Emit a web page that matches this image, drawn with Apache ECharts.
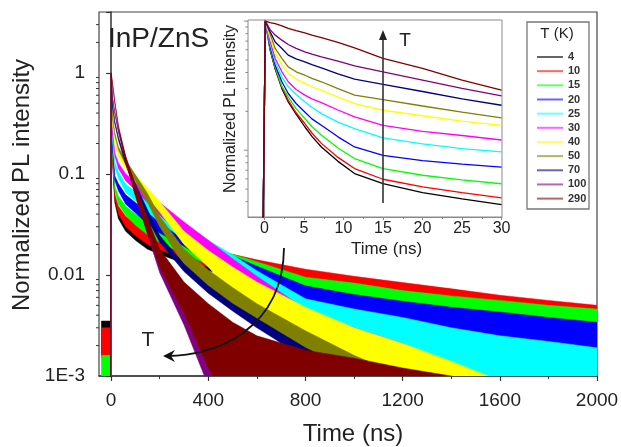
<!DOCTYPE html>
<html><head><meta charset="utf-8">
<script src="https://cdn.jsdelivr.net/npm/echarts@6/dist/echarts.min.js"></script>
<style>html,body{margin:0;padding:0;background:#fff}#c{width:621px;height:447px}</style>
</head><body><div id="c"></div>
<script>
// ---------- categories / styling lists ----------
const TEMPS = ['4','10','15','20','25','30','40','50','70','100','290'];
const COLORS = ['#000000','#ff0000','#00ff00','#0000ff','#00ffff','#ff00ff','#ffff00','#808000','#000080','#800080','#800000'];

// ---------- main plot: time grid and noise-band edges (lower / upper) ----------
const MAIN_T = [-40, -2, 0, 5, 15, 30, 60, 100, 150, 200, 300, 400, 500, 600, 800, 1000, 1200, 1400, 1600, 1800, 2000];

const LO_4K   = [0.0016,0.0016,0.97,0.145,0.052,0.036,0.027,0.022,0.018,0.016,0.013,0.011,0.0098,0.0086,0.0068,0.0056,0.0048,0.0042,0.0037,0.0033,0.003];
const HI_4K   = [0.0035,0.0035,1.0,0.155,0.058,0.044,0.035,0.029,0.025,0.022,0.019,0.0168,0.0152,0.0135,0.011,0.0094,0.0082,0.0072,0.0061,0.0054,0.0048];
const LO_10K  = [0.0015,0.0015,0.97,0.155,0.057,0.04,0.03,0.0245,0.02,0.0178,0.0142,0.012,0.0102,0.009,0.0071,0.0058,0.0049,0.0043,0.0038,0.0034,0.0031];
const HI_10K  = [0.003,0.003,1.0,0.166,0.063,0.048,0.038,0.032,0.0278,0.0248,0.0208,0.0182,0.016,0.0141,0.0114,0.0097,0.0084,0.0073,0.0063,0.0056,0.005];
const LO_15K  = [0.0008,0.0008,0.97,0.17,0.068,0.05,0.039,0.031,0.025,0.021,0.0162,0.0126,0.0103,0.0086,0.0058,0.0048,0.004,0.0034,0.003,0.0026,0.0023];
const HI_15K  = [0.0016,0.0016,1.0,0.182,0.076,0.06,0.048,0.04,0.034,0.0295,0.0232,0.019,0.016,0.0135,0.0095,0.0083,0.007,0.0062,0.0056,0.005,0.0046];
const LO_20K  = [0.0003,0.0003,0.97,0.19,0.086,0.068,0.05,0.041,0.032,0.026,0.0192,0.0135,0.0098,0.0074,0.0043,0.0033,0.0026,0.0021,0.0018,0.0015,0.0013];
const HI_20K  = [0.0005,0.0005,1.0,0.206,0.096,0.08,0.062,0.052,0.042,0.036,0.0275,0.02,0.0155,0.0122,0.0078,0.0064,0.0055,0.0048,0.0043,0.0038,0.0034];
const LO_25K  = [0.0003,0.0003,0.97,0.228,0.118,0.09,0.066,0.054,0.042,0.033,0.0225,0.0148,0.01,0.0066,0.003,0.0022,0.0016,0.0012,0.0009,0.0007,0.0006];
const HI_25K  = [0.0005,0.0005,1.0,0.246,0.131,0.105,0.079,0.067,0.055,0.046,0.0325,0.022,0.0158,0.011,0.0058,0.0046,0.0038,0.003,0.0025,0.0022,0.0019];
const LO_30K  = [0.0003,0.0003,0.97,0.257,0.15,0.113,0.085,0.069,0.052,0.039,0.0235,0.0148,0.0092,0.0058,0.0021,0.0012,0.0008,0.0005,0.0003,0.0003,0.0003];
const HI_30K  = [0.0005,0.0005,1.0,0.277,0.163,0.128,0.1,0.082,0.065,0.052,0.0335,0.022,0.0145,0.0097,0.0046,0.003,0.0021,0.0013,0.0009,0.0006,0.0005];
const LO_40K  = [0.0003,0.0003,0.97,0.32,0.196,0.149,0.111,0.084,0.059,0.042,0.02,0.012,0.0065,0.0035,0.0014,0.0007,0.0004,0.0003,0.0003,0.0003,0.0003];
const HI_40K  = [0.0005,0.0005,1.0,0.338,0.212,0.163,0.126,0.097,0.072,0.053,0.027,0.0175,0.012,0.0085,0.0048,0.003,0.0021,0.0014,0.0009,0.0006,0.0005];
const LO_50K  = [0.0003,0.0003,0.97,0.372,0.238,0.171,0.123,0.084,0.052,0.03,0.0125,0.0078,0.005,0.0032,0.0014,0.0007,0.0003,0.0003,0.0003,0.0003,0.0003];
const HI_50K  = [0.0005,0.0005,1.0,0.39,0.256,0.185,0.137,0.098,0.064,0.038,0.018,0.0112,0.0075,0.0052,0.0028,0.0016,0.001,0.0006,0.0005,0.0005,0.0005];
const LO_70K  = [0.0003,0.0003,0.97,0.472,0.315,0.215,0.124,0.069,0.036,0.021,0.0108,0.0066,0.0044,0.003,0.0015,0.0007,0.0003,0.0003,0.0003,0.0003,0.0003];
const HI_70K  = [0.0005,0.0005,1.0,0.494,0.331,0.231,0.137,0.08,0.044,0.0245,0.0128,0.0078,0.0052,0.0037,0.0019,0.0011,0.0007,0.0005,0.0005,0.0005,0.0005];
const LO_100K = [0.0003,0.0003,0.97,0.565,0.396,0.256,0.135,0.062,0.025,0.0105,0.0032,0.0008,0.0004,0.0003,0.0003,0.0003,0.0003,0.0003,0.0003,0.0003,0.0003];
const HI_100K = [0.0005,0.0005,1.0,0.59,0.414,0.272,0.15,0.076,0.035,0.017,0.0078,0.0047,0.003,0.0021,0.0015,0.0012,0.0009,0.0006,0.0005,0.0005,0.0005];
const LO_290K = [0.0003,0.0003,0.97,0.795,0.503,0.283,0.13,0.06,0.026,0.012,0.0042,0.0012,0.0005,0.0004,0.0003,0.0003,0.0003,0.0003,0.0003,0.0003,0.0003];
const HI_290K = [0.0005,0.0005,1.0,0.825,0.525,0.301,0.148,0.075,0.036,0.018,0.0085,0.0052,0.0034,0.0025,0.0018,0.0015,0.0012,0.001,0.0008,0.0006,0.0006];

// ---------- inset: time grid and curve values ----------
const INSET_T = [-2.1, -0.25, 0.1, 0.7, 1.35, 2.2, 3, 4, 5.1, 6, 7.2, 9.3, 11.4, 15, 20, 25, 30];
const IN_4K   = [0.01,0.01,1.0,0.6,0.425,0.3,0.237,0.19,0.152,0.128,0.106,0.082,0.066,0.0552,0.047,0.042,0.0379];
const IN_10K  = [0.01,0.01,1.0,0.61,0.43,0.31,0.244,0.195,0.161,0.136,0.113,0.088,0.0721,0.0596,0.052,0.047,0.0427];
const IN_15K  = [0.01,0.01,1.0,0.62,0.442,0.313,0.259,0.21,0.176,0.152,0.131,0.104,0.0862,0.0721,0.064,0.059,0.055];
const IN_20K  = [0.01,0.01,1.0,0.64,0.456,0.339,0.275,0.23,0.198,0.175,0.156,0.127,0.106,0.0914,0.083,0.078,0.074];
const IN_25K  = [0.01,0.01,1.0,0.67,0.483,0.37,0.31,0.27,0.237,0.215,0.192,0.165,0.147,0.1245,0.112,0.103,0.097];
const IN_30K  = [0.01,0.01,1.0,0.70,0.514,0.405,0.339,0.295,0.267,0.25,0.234,0.205,0.181,0.156,0.14,0.13,0.12];
const IN_40K  = [0.01,0.01,1.0,0.75,0.562,0.456,0.393,0.355,0.329,0.31,0.292,0.258,0.23,0.204,0.185,0.168,0.156];
const IN_50K  = [0.01,0.01,1.0,0.80,0.614,0.514,0.442,0.405,0.381,0.36,0.339,0.3,0.267,0.247,0.22,0.197,0.178];
const IN_70K  = [0.01,0.01,1.0,0.83,0.69,0.614,0.545,0.51,0.483,0.46,0.434,0.39,0.355,0.323,0.285,0.25,0.223];
const IN_100K = [0.01,0.01,1.0,0.86,0.779,0.712,0.659,0.615,0.578,0.555,0.529,0.49,0.45,0.405,0.349,0.301,0.264];
const IN_290K = [0.01,0.01,1.0,0.975,0.955,0.92,0.88,0.845,0.81,0.78,0.745,0.685,0.62,0.514,0.43,0.349,0.292];

// ---------- ticks and tick labels ----------
const X_TICKS = [0, 400, 800, 1200, 1600, 2000];
const X_MINOR = [200, 600, 1000, 1400, 1800];
const Y_TICKS = [0.001, 0.01, 0.1, 1];
const Y_TICK_LABELS = ['1E-3', '0.01', '0.1', '1'];
const Y_MINOR = [0.002,0.003,0.004,0.005,0.006,0.007,0.008,0.009,0.02,0.03,0.04,0.05,0.06,0.07,0.08,0.09,0.2,0.3,0.4,0.5,0.6,0.7,0.8,0.9,2,3];
const IN_X_TICKS = [0, 5, 10, 15, 20, 25, 30];
const IN_X_MINOR = [2.5, 7.5, 12.5, 17.5, 22.5, 27.5];
const IN_Y_MAJOR = [0.1, 1];
const IN_Y_MINOR = [0.04,0.05,0.06,0.07,0.08,0.09,0.2,0.3,0.4,0.5,0.6,0.7,0.8,0.9];

const MAIN_LO = [LO_4K, LO_10K, LO_15K, LO_20K, LO_25K, LO_30K, LO_40K, LO_50K, LO_70K, LO_100K, LO_290K];
const MAIN_HI = [HI_4K, HI_10K, HI_15K, HI_20K, HI_25K, HI_30K, HI_40K, HI_50K, HI_70K, HI_100K, HI_290K];
const INSET_V = [IN_4K, IN_10K, IN_15K, IN_20K, IN_25K, IN_30K, IN_40K, IN_50K, IN_70K, IN_100K, IN_290K];

const FONT = '"Liberation Sans", Arial, Helvetica, sans-serif';

function bandRenderer(lo, hi, color) {
  return function (params, api) {
    if (params.dataIndex !== 0) return null;
    const up = [], down = [];
    for (let j = 0; j < MAIN_T.length; j++) {
      up.push(api.coord([MAIN_T[j], hi[j]]));
      down.push(api.coord([MAIN_T[j], lo[j]]));
    }
    const pts = up.concat(down.reverse());
    const cs = params.coordSys;
    return {
      type: 'polygon',
      shape: { points: pts },
      style: { fill: color, stroke: color, lineWidth: 0.5 },
      clipPath: { type: 'rect', shape: { x: cs.x, y: cs.y, width: cs.width, height: cs.height } }
    };
  };
}

function tickRenderer(xVal, len, color) {
  return function (params, api) {
    const p = api.coord([xVal, api.value(1)]);
    return { type: 'line', shape: { x1: p[0] - len, y1: p[1], x2: p[0], y2: p[1] }, style: { stroke: color, lineWidth: 1 } };
  };
}

const series = [];
TEMPS.forEach((name, i) => {
  series.push({
    type: 'custom', name: name, xAxisIndex: 0, yAxisIndex: 0,
    coordinateSystem: 'cartesian2d', silent: true,
    itemStyle: { color: COLORS[i] },
    dimensions: ['t', 'lo', 'hi'], encode: { x: 0, y: [1, 2] },
    data: MAIN_T.map((t, j) => [t, MAIN_LO[i][j], MAIN_HI[i][j]]),
    renderItem: bandRenderer(MAIN_LO[i], MAIN_HI[i], COLORS[i]),
    z: 2
  });
});
TEMPS.forEach((name, i) => {
  series.push({
    type: 'line', name: name, xAxisIndex: 2, yAxisIndex: 1, silent: true,
    showSymbol: false, clip: true,
    itemStyle: { color: COLORS[i] },
    lineStyle: { color: COLORS[i], width: 1.3 },
    data: INSET_T.map((t, j) => [t, INSET_V[i][j]]),
    z: 3
  });
});
series.push({
  type: 'custom', xAxisIndex: 0, yAxisIndex: 0, silent: true,
  data: Y_MINOR.map(v => [-50, v]), renderItem: tickRenderer(-50, 3, '#333'), z: 5
});
series.push({
  type: 'custom', xAxisIndex: 2, yAxisIndex: 1, silent: true,
  data: IN_Y_MAJOR.map(v => [-2.09, v]), renderItem: tickRenderer(-2.09, 4, '#888'), z: 5
});
series.push({
  type: 'custom', xAxisIndex: 2, yAxisIndex: 1, silent: true,
  data: IN_Y_MINOR.map(v => [-2.09, v]), renderItem: tickRenderer(-2.09, 2.5, '#888'), z: 5
});

function yLabel(v) {
  for (let k = 0; k < Y_TICKS.length; k++) {
    if (Math.abs(Math.log10(v) - Math.log10(Y_TICKS[k])) < 0.01) return Y_TICK_LABELS[k];
  }
  return '';
}
function plainNum(v) { return String(v); }

const option = {
  animation: false,
  backgroundColor: '#fff',
  textStyle: { fontFamily: FONT },
  grid: [
    { left: 99, top: 12, width: 498, height: 364, show: true, borderColor: '#444', borderWidth: 1.2, backgroundColor: 'transparent', containLabel: false, outerBoundsMode: 'none' },
    { left: 248, top: 20, width: 254, height: 197, show: true, borderColor: '#8a8a8a', borderWidth: 1, backgroundColor: '#fff', containLabel: false, outerBoundsMode: 'none' }
  ],
  xAxis: [
    { type: 'value', gridIndex: 0, position: 'bottom', min: -50, max: 2000,
      axisLine: { show: true, lineStyle: { color: '#333', width: 1.5 } },
      axisTick: { show: true, length: 5, customValues: X_TICKS, lineStyle: { color: '#333', width: 1.2 } },
      axisLabel: { customValues: X_TICKS, fontSize: 19, color: '#222', margin: 15, fontFamily: FONT, formatter: plainNum },
      splitLine: { show: false },
      name: 'Time (ns)', nameLocation: 'middle', nameGap: 46,
      nameTextStyle: { fontSize: 24, color: '#222', fontFamily: FONT, padding: [0, 0, 0, 10] } },
    { type: 'value', gridIndex: 0, position: 'bottom', min: -50, max: 2000,
      axisLine: { show: false },
      axisTick: { show: true, length: 3, customValues: X_MINOR, lineStyle: { color: '#333', width: 1 } },
      axisLabel: { show: false }, splitLine: { show: false } },
    { type: 'value', gridIndex: 1, position: 'bottom', min: -2.09, max: 30.06,
      axisLine: { show: true, lineStyle: { color: '#888', width: 1 } },
      axisTick: { show: true, length: 3, customValues: IN_X_TICKS, lineStyle: { color: '#888' } },
      axisLabel: { customValues: IN_X_TICKS, fontSize: 16, color: '#222', margin: 4, fontFamily: FONT, formatter: plainNum },
      splitLine: { show: false },
      name: 'Time (ns)', nameLocation: 'middle', nameGap: 24,
      nameTextStyle: { fontSize: 17, color: '#222', fontFamily: FONT, padding: [0, 0, 0, 23] } },
    { type: 'value', gridIndex: 1, position: 'bottom', min: -2.09, max: 30.06,
      axisLine: { show: false },
      axisTick: { show: true, length: 2, customValues: IN_X_MINOR, lineStyle: { color: '#888' } },
      axisLabel: { show: false }, splitLine: { show: false } }
  ],
  yAxis: [
    { type: 'log', logBase: 10, gridIndex: 0, min: 0.001, max: 4,
      axisLine: { show: true, lineStyle: { color: '#333', width: 1.5 } },
      axisTick: { show: true, length: 5, lineStyle: { color: '#333', width: 1.2 } },
      axisLabel: { fontSize: 19, color: '#222', margin: 14, fontFamily: FONT, formatter: yLabel },
      splitLine: { show: false }, minorTick: { show: false },
      name: 'Normalized PL intensity', nameLocation: 'middle', nameGap: 62,
      nameTextStyle: { fontSize: 24, color: '#222', fontFamily: FONT, padding: [0, 0, 0, 18] } },
    { type: 'log', logBase: 10, gridIndex: 1, min: 0.0304, max: 1.02,
      axisLine: { show: true, lineStyle: { color: '#888', width: 1 } },
      axisTick: { show: false }, axisLabel: { show: false }, splitLine: { show: false },
      name: 'Normalized PL intensity', nameLocation: 'middle', nameGap: 9,
      nameTextStyle: { fontSize: 16, color: '#222', fontFamily: FONT, padding: [0, 0, 0, 19] } }
  ],
  legend: {
    data: TEMPS.map(n => ({ name: n, icon: 'rect' })),
    orient: 'vertical', left: 532, top: 45,
    itemWidth: 26, itemHeight: 2, itemGap: 0.16,
    padding: 5, selectedMode: false,
    itemStyle: { opacity: 0.6 },
    textStyle: { fontSize: 11, fontWeight: 'bold', color: '#333', lineHeight: 14, fontFamily: FONT }
  },
  graphic: [
    { type: 'rect', z: 1, shape: { x: 527, y: 22, width: 62, height: 187 }, style: { fill: '#fff', stroke: '#777', lineWidth: 1.3 } },
    { type: 'text', z: 10, style: { x: 557, y: 34, text: 'T (K)', fontSize: 15, fill: '#222', align: 'center', verticalAlign: 'middle', fontFamily: FONT } },
    { type: 'text', z: 10, style: { x: 108, y: 25, text: 'InP/ZnS', fontSize: 28, fill: '#222', align: 'left', verticalAlign: 'top', fontFamily: FONT } },
    { type: 'line', z: 10, shape: { x1: 383, y1: 203, x2: 383, y2: 38 }, style: { stroke: '#333', lineWidth: 1.6 } },
    { type: 'polygon', z: 10, shape: { points: [[383, 30], [379, 40], [387, 40]] }, style: { fill: '#222' } },
    { type: 'text', z: 10, style: { x: 405, y: 41, text: 'T', fontSize: 19, fill: '#222', align: 'center', verticalAlign: 'middle', fontFamily: FONT } },
    { type: 'bezierCurve', z: 10, shape: { x1: 284, y1: 248, cpx1: 283, cpy1: 330, cpx2: 215, cpy2: 356, x2: 167, y2: 356 }, style: { stroke: '#111', lineWidth: 1.8, fill: null } },
    { type: 'polygon', z: 10, shape: { points: [[163, 356], [175, 350], [171, 356], [175, 362]] }, style: { fill: '#111' } },
    { type: 'text', z: 10, style: { x: 148, y: 340, text: 'T', fontSize: 21, fill: '#222', align: 'center', verticalAlign: 'middle', fontFamily: FONT } }
  ],
  series: series
};

const chart = echarts.init(document.getElementById('c'), null, { renderer: 'canvas' });
chart.setOption(option);
</script>
</body></html>
